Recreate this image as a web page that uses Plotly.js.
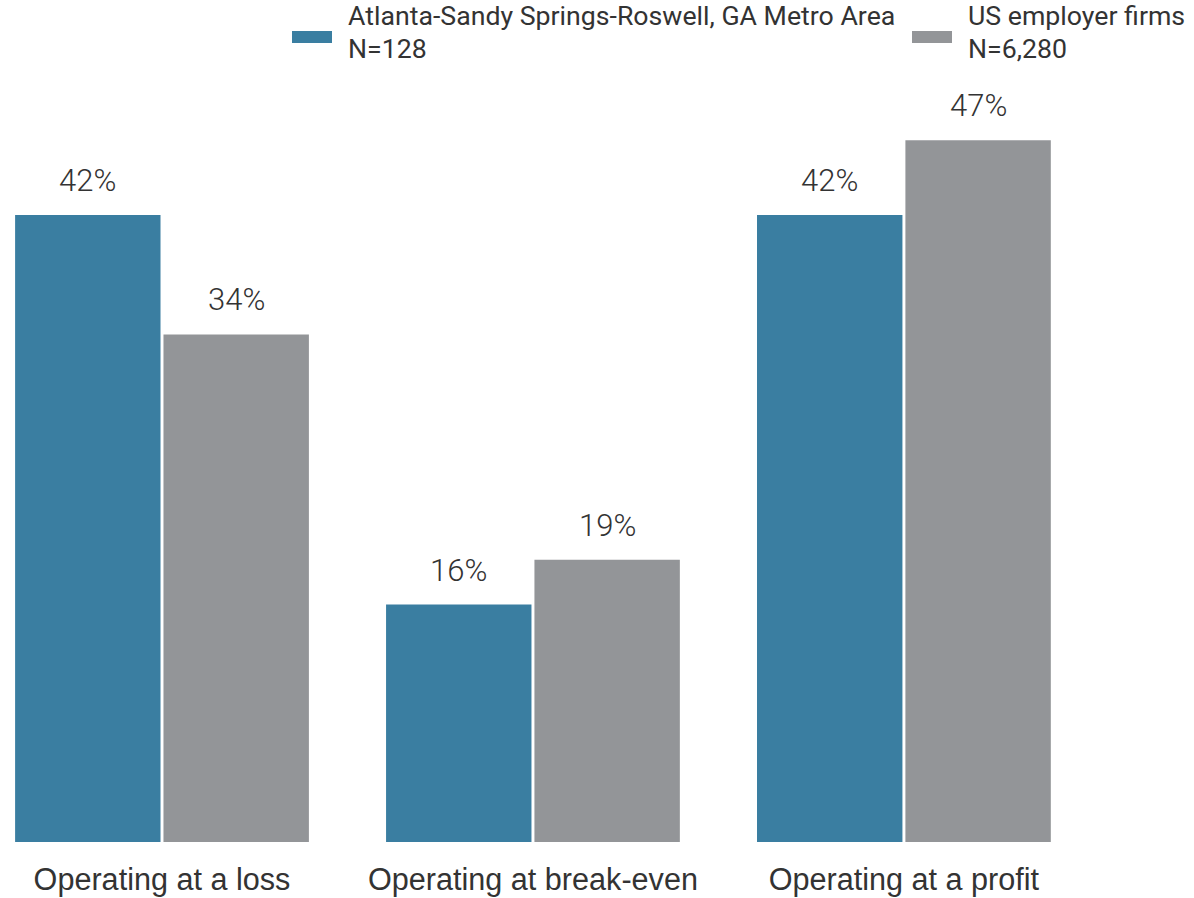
<!DOCTYPE html>
<html>
<head>
<meta charset="utf-8">
<script src="https://cdn.plot.ly/plotly-3.0.1.min.js"></script>
<style>html,body{margin:0;padding:0;background:#fff;}#chart{width:1194px;height:898px;}</style>
</head>
<body>
<div id="chart"></div>
<script>
const categories = ['Operating at a loss', 'Operating at break-even', 'Operating at a profit'];
const atlantaValues = [42, 15.9, 42];
const usValues = [34, 18.9, 47];
const legendNames = ['Atlanta-Sandy Springs-Roswell, GA Metro Area', 'US employer firms'];
const legendCounts = ['N=128', 'N=6,280'];
const colors = ['#3a7ea1', '#939598'];

const W = 1194, H = 898, M = {l: 0, r: 0, t: 90, b: 56};
const plotH = H - M.t - M.b;
const px = x => (x - M.l) / (W - M.l - M.r);
const py = y => (H - M.b - y) / plotH;

const bargap = 0.2;
const barOffset = (1 - bargap) / 4;

const traces = [
  {type: 'bar', name: legendNames[0], x: categories, y: atlantaValues, marker: {color: colors[0]}, hoverinfo: 'none'},
  {type: 'bar', name: legendNames[1], x: categories, y: usValues, marker: {color: colors[1]}, hoverinfo: 'none'}
];

const annotations = [];
[atlantaValues, usValues].forEach((vals, s) => {
  vals.forEach((v, i) => {
    annotations.push({
      x: i + (s === 0 ? -barOffset : barOffset), y: v, xref: 'x', yref: 'y',
      text: Math.round(v) + '%', showarrow: false, yanchor: 'bottom', yshift: 14,
      font: {family: 'Roboto', size: 31, color: '#333333', weight: 300}
    });
  });
});

// manual legend: swatch + one two-line text per item
const legendX = [292, 912];
const legendFontPx = 26.7;
const shapes = [];
legendNames.forEach((name, k) => {
  shapes.push({type: 'rect', xref: 'paper', yref: 'paper', x0: px(legendX[k]), x1: px(legendX[k] + 40),
    y0: py(43), y1: py(31), fillcolor: colors[k], line: {width: 0}, layer: 'above'});
  const span = t => '<span style="font-size:' + legendFontPx + 'px">' + t + '</span>';
  annotations.push({xref: 'paper', yref: 'paper', x: px(legendX[k] + 54), y: py(32.5), xanchor: 'left', yanchor: 'middle',
    align: 'left', text: span(name) + '<br>' + span(legendCounts[k]), showarrow: false,
    font: {family: 'Roboto', size: 25, color: '#333333'}});
});

const layout = {
  width: W, height: H,
  margin: M,
  paper_bgcolor: '#ffffff', plot_bgcolor: '#ffffff',
  barmode: 'group', bargap: bargap, bargroupgap: 0.02,
  xaxis: {
    type: 'category', range: [-0.4367, 2.782], showgrid: false, zeroline: false, showline: false,
    ticks: '', tickfont: {family: 'Liberation Sans', size: 30.6, color: '#333333'}, ticklabelstandoff: 16
  },
  yaxis: {range: [0, 50.37], visible: false, showgrid: false, zeroline: false},
  showlegend: false,
  shapes: shapes,
  annotations: annotations
};

Plotly.newPlot('chart', traces, layout, {displayModeBar: false, staticPlot: true});
</script>
</body>
</html>
